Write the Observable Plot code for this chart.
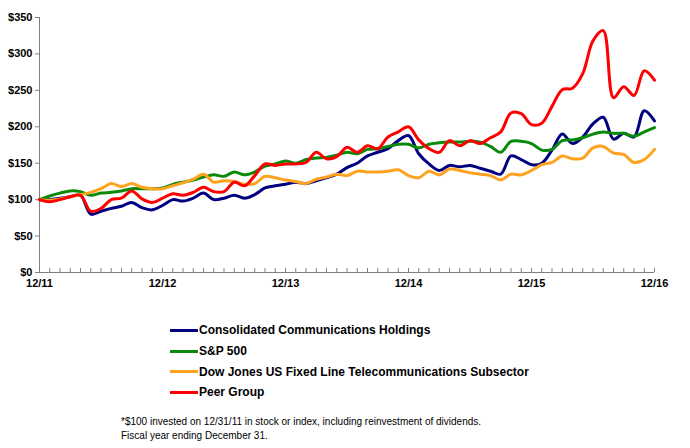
<!DOCTYPE html>
<html>
<head>
<meta charset="utf-8">
<script src="https://cdn.jsdelivr.net/npm/d3@7"></script>
<script src="https://cdn.jsdelivr.net/npm/@observablehq/plot@0.6"></script>
<style>
  body { margin: 0; background: #fff; font-family: "Liberation Sans", Arial, sans-serif; }
  #wrap { position: relative; width: 690px; height: 448px; }
  #legend { position: absolute; left: 170px; top: 320px; }
  .item { display: flex; align-items: center; height: 20.7px; font-weight: bold; font-size: 12px; color: #000; }
  .sw { width: 28px; height: 3px; margin-right: 1px; }
  #note { position: absolute; left: 121px; top: 415px; font-size: 10px; line-height: 14px; color: #000; }
</style>
</head>
<body>
<div id="wrap">
  <div id="chart"></div>
  <div id="legend"></div>
  <div id="note"></div>
</div>
<script>
const months = d3.range(61);
const tickMonths = [0, 12, 24, 36, 48, 60];
const tickLabels = ["12/11", "12/12", "12/13", "12/14", "12/15", "12/16"];
const yTicks = [0, 50, 100, 150, 200, 250, 300, 350];
const seriesNames = [
  "Consolidated Communications Holdings",
  "S&P 500",
  "Dow Jones US Fixed Line Telecommunications Subsector",
  "Peer Group"
];
const seriesColors = ["#000080", "#0a8a0a", "#ffa21f", "#ff0000"];

const consolidated = [100,100,102,104,106,80,84,88,91,96,89,86,92,100,98,102,109,100,102,106,
  102,107,116,119,121,124,122,126,130,135,144,150,160,165,170,181,188,163,149,140,
  147,145,147,143,139,135,160,155,148,150,168,190,177,186,204,213,183,191,186,222,208];
const sp500 = [100,105,109,112,111,106,109,110,112,115,115,115,116,121,124,127,131,134,132,138,
  134,138,146,149,153,150,155,157,158,161,165,163,169,170,173,176,176,171,176,178,
  179,179,180,179,173,165,180,180,177,168,169,181,182,185,190,193,191,191,187,193,199];
const dowJones = [100,99,101,104,107,110,115,122,118,122,117,115,115,119,123,128,135,124,126,125,
  121,122,132,130,127,125,122,128,131,135,133,139,138,138,139,141,133,130,139,134,
  142,140,137,135,133,127,135,134,140,148,151,160,156,157,171,173,164,162,151,155,169];
const peerGroup = [100,97,100,104,106,84,88,100,102,112,101,96,102,108,106,110,117,111,111,124,
  119,133,149,147,149,149,151,165,156,159,172,165,174,170,186,193,200,182,170,165,
  181,174,181,177,185,193,219,218,203,205,228,251,253,273,318,332,240,255,243,277,264];

const allSeries = [consolidated, sp500, dowJones, peerGroup];
const rows = [];
allSeries.forEach((vals, i) => vals.forEach((v, m) => rows.push({month: months[m], value: v, series: seriesNames[i]})));

const axisColor = "#808080";
const chart = Plot.plot({
  width: 690,
  height: 295,
  marginLeft: 39,
  marginRight: 36,
  marginTop: 17,
  marginBottom: 23,
  style: {fontFamily: "Liberation Sans, Arial, sans-serif", fontSize: "11px", fontWeight: "bold", color: "#000"},
  x: {domain: [0, 60]},
  y: {domain: [0, 350]},
  color: {domain: seriesNames, range: seriesColors},
  marks: [
    Plot.axisX({ticks: months, tickSize: -4, tickFormat: () => "", stroke: axisColor, label: null}),
    Plot.axisX({ticks: tickMonths, tickSize: 0, tickPadding: 7, tickFormat: (d) => tickLabels[tickMonths.indexOf(d)], label: null, fill: "#000"}),
    Plot.axisY({ticks: yTicks, tickSize: 4, tickPadding: 3, tickFormat: (d) => "$" + d, label: null, stroke: axisColor, fill: "#000"}),
    Plot.ruleX([0], {stroke: axisColor}),
    Plot.ruleY([0], {stroke: axisColor}),
    Plot.line(rows, {x: "month", y: "value", z: "series", stroke: "series", strokeWidth: 3, curve: "catmull-rom"})
  ]
});
document.getElementById("chart").appendChild(chart);

const legend = document.getElementById("legend");
seriesNames.forEach((name, i) => {
  const item = document.createElement("div");
  item.className = "item";
  const sw = document.createElement("span");
  sw.className = "sw";
  sw.style.background = seriesColors[i];
  const t = document.createElement("span");
  t.textContent = name;
  item.appendChild(sw);
  item.appendChild(t);
  legend.appendChild(item);
});
const noteLines = ["*$100 invested on 12/31/11 in stock or index, including reinvestment of dividends.", "Fiscal year ending December 31."];
document.getElementById("note").innerHTML = noteLines.map(s => s.replace(/&/g, "&amp;")).join("<br>");
</script>
</body>
</html>
